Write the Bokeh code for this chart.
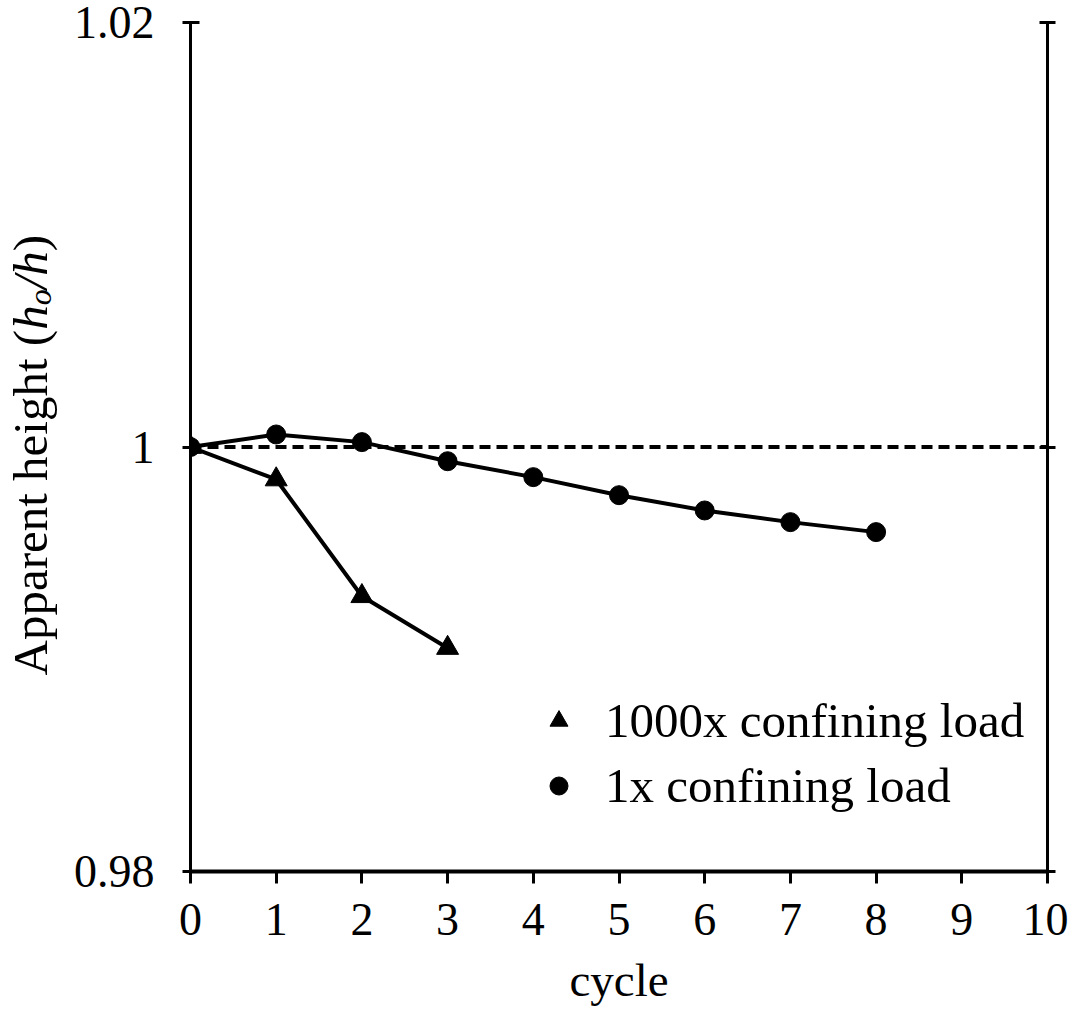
import math
from bokeh.plotting import figure
from bokeh.layouts import row
from bokeh.models import Range1d, FixedTicker, LinearAxis, Span, Legend, LegendItem, Label
from bokeh.embed import file_html
from bokeh.resources import INLINE

# ---------------- data ----------------
cycles_1000x = [0, 1, 2, 3]
height_1000x = [1.0, 0.99847, 0.99297, 0.99053]
cycles_1x = [0, 1, 2, 3, 4, 5, 6, 7, 8]
height_1x = [1.0, 1.00059, 1.00023, 0.99933, 0.99858, 0.99773, 0.99701, 0.99646, 0.99599]
x_ticks = [0, 1, 2, 3, 4, 5, 6, 7, 8, 9, 10]
y_ticks = [0.98, 1.0, 1.02]
y_tick_labels = ["0.98", "1", "1.02"]
series_names = ["1000x confining load", "1x confining load"]
x_label = "cycle"
y_label_parts = ["Apparent height (", "h", "o", "/h", ")"]
reference_level = 1.0

FONT = "Liberation Serif"
TICK_FS = "46px"

TOTAL_W, H = 1068, 1013
FRAME_TOP, FRAME_BOTTOM = 22, 871
LAB_W = 70                      # strip holding the rotated y-axis title
MAIN_W = TOTAL_W - LAB_W

# ---------------- main figure ----------------
p = figure(width=MAIN_W, height=H, output_backend="svg", toolbar_location=None,
           x_range=Range1d(0, 10), y_range=Range1d(0.98, 1.02),
           min_border_left=187 - LAB_W, min_border_right=TOTAL_W - 1047,
           min_border_top=FRAME_TOP, min_border_bottom=H - FRAME_BOTTOM)
p.xgrid.visible = False
p.ygrid.visible = False
p.outline_line_color = None
p.background_fill_color = "white"
p.border_fill_color = "white"

# bottom axis
xa = p.xaxis[0]
xa.ticker = FixedTicker(ticks=x_ticks)
xa.axis_line_width = 4
xa.axis_line_color = "black"
xa.major_tick_line_color = "black"
xa.major_tick_line_width = 3
xa.major_tick_in = 0
xa.major_tick_out = 12
xa.minor_tick_line_color = None
xa.major_label_text_font = FONT
xa.major_label_text_font_size = TICK_FS
xa.major_label_text_color = "black"
xa.major_label_standoff = 20
xa.axis_label = x_label
xa.axis_label_text_font = FONT
xa.axis_label_text_font_size = "47px"
xa.axis_label_text_font_style = "normal"
xa.axis_label_text_color = "black"
xa.axis_label_standoff = 16

# left axis
ya = p.yaxis[0]
ya.ticker = FixedTicker(ticks=y_ticks)
ya.major_label_overrides = dict(zip(y_ticks, y_tick_labels))
ya.axis_line_width = 3
ya.axis_line_color = "black"
ya.major_tick_line_color = "black"
ya.major_tick_line_width = 3
ya.major_tick_in = 9
ya.major_tick_out = 8
ya.minor_tick_line_color = None
ya.major_label_text_font = FONT
ya.major_label_text_font_size = TICK_FS
ya.major_label_text_color = "black"
ya.major_label_standoff = 28

# right axis (ticks, no labels)
ra = LinearAxis(ticker=FixedTicker(ticks=y_ticks))
ra.major_label_overrides = {t: "" for t in y_ticks}
ra.axis_line_width = 3
ra.axis_line_color = "black"
ra.major_tick_line_color = "black"
ra.major_tick_line_width = 3
ra.major_tick_in = 8
ra.major_tick_out = 8
ra.minor_tick_line_color = None
ra.major_label_standoff = 0
p.add_layout(ra, "right")

# reference line
p.add_layout(Span(location=reference_level, dimension="width", line_color="black",
                  line_width=4, line_dash="11 6"))

# series
p.line(cycles_1000x, height_1000x, line_color="black", line_width=4)
p.line(cycles_1x, height_1x, line_color="black", line_width=4)
tri = p.scatter(cycles_1000x, height_1000x, marker="triangle", size=22,
                fill_color="black", line_color="black")
circ = p.scatter(cycles_1x, height_1x, marker="circle", size=19,
                 fill_color="black", line_color="black")

legend = Legend(items=[LegendItem(label=series_names[0], renderers=[tri]),
                       LegendItem(label=series_names[1], renderers=[circ])],
                location=(346, 57), orientation="vertical",
                label_text_font=FONT, label_text_font_size="49px", label_text_color="black",
                glyph_width=45, glyph_height=45, label_standoff=24, spacing=8,
                padding=0, margin=0, border_line_color=None, background_fill_alpha=0)
p.add_layout(legend)

# ---------------- y-axis title strip ----------------
# the row layout aligns this strip's frame with the main frame (rows 22..871),
# so the y range is chosen such that data y == H - page y
t = figure(width=LAB_W, height=H, output_backend="svg", toolbar_location=None,
           x_range=Range1d(0, LAB_W), y_range=Range1d(H - FRAME_BOTTOM, H - FRAME_TOP),
           min_border=0, x_axis_location=None, y_axis_location=None)
t.xgrid.visible = False
t.ygrid.visible = False
t.outline_line_color = None
t.background_fill_color = "white"
t.border_fill_color = "white"

base_x, start_y = 47, 675     # baseline x and bottom end of the title (page pixels)
specs = [  # (style, size px, baseline shift px, advance em)
    ("normal", 49, 0, 7.054),
    ("italic", 49, 0, 0.5),
    ("italic", 32, 3, 0.5),
    ("italic", 49, 0, 0.778),
    ("normal", 49, 0, 0.333),
]
cur = start_y
for txt, (style, size, shift, adv) in zip(y_label_parts, specs):
    length = adv * size
    cx = base_x + shift - 0.3375 * size
    cy = cur - length / 2
    t.add_layout(Label(x=cx, y=H - cy, x_units="data", y_units="data", text=txt,
                       angle=math.pi / 2, text_align="center", text_baseline="middle",
                       text_font=FONT, text_font_size=f"{size}px", text_font_style=style,
                       text_color="black"))
    cur -= length

layout = row(t, p, spacing=0)
open("out.html", "w").write(file_html(layout, INLINE))
